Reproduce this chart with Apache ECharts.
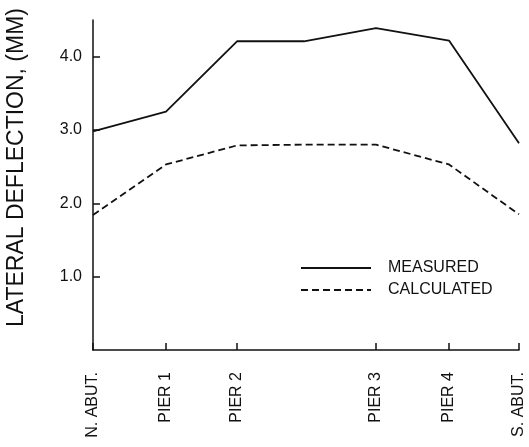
<!DOCTYPE html>
<html><head><meta charset="utf-8">
<script src="https://cdn.jsdelivr.net/npm/echarts@6/dist/echarts.min.js"></script>
<style>html,body{margin:0;padding:0;background:#fff}#c{width:529px;height:447px}</style>
</head><body><div id="c"></div>
<script>
// positions along bridge (arbitrary distance units)
const stationPos = [0, 73, 144, 283, 356, 426];
const stationLabels = ['N. ABUT.', 'PIER 1', 'PIER 2', 'PIER 3', 'PIER 4', 'S. ABUT.'];
const measuredX = [0, 73, 144, 211, 283, 356, 426];
const measuredY = [2.98, 3.25, 4.21, 4.21, 4.39, 4.22, 2.82];
const calculatedX = [0, 73, 144, 211, 283, 356, 426];
const calculatedY = [1.84, 2.53, 2.79, 2.80, 2.80, 2.53, 1.85];
const yTicks = [1, 2, 3, 4];

const font = '"Liberation Sans",Arial,sans-serif';
const chart = echarts.init(document.getElementById('c'), null, {renderer: 'canvas'});
chart.setOption({
  animation: false,
  backgroundColor: '#fff',
  grid: {left: 93, right: 10, top: 20, bottom: 97},
  legend: {
    orient: 'vertical', left: 295, top: 255, itemWidth: 70, itemHeight: 14, itemGap: 6,
    itemStyle: {opacity: 0},
    textStyle: {fontFamily: font, fontSize: 16, color: '#111', padding: [0, 0, 0, 12]},
    data: ['MEASURED', 'CALCULATED']
  },
  xAxis: {
    type: 'value', min: 0, max: 426,
    splitLine: {show: false},
    axisLine: {lineStyle: {color: '#111', width: 1.5}},
    axisTick: {inside: true, length: 7, customValues: stationPos, lineStyle: {color: '#111', width: 1.5}},
    axisLabel: {
      customValues: stationPos, rotate: 90, margin: 22,
      fontFamily: font, fontSize: 16, color: '#111',
      formatter: v => stationLabels[stationPos.indexOf(v)] || ''
    }
  },
  yAxis: {
    type: 'value', min: 0, max: 4.5, interval: 1,
    splitLine: {show: false},
    axisLine: {show: true, lineStyle: {color: '#111', width: 1.5}},
    axisTick: {inside: true, length: 7, customValues: yTicks, lineStyle: {color: '#111', width: 1.5}},
    axisLabel: {
      customValues: yTicks, margin: 11,
      fontFamily: font, fontSize: 16, color: '#111',
      formatter: v => v.toFixed(1)
    }
  },
  graphic: [{
    type: 'text', left: 5, top: 8, rotation: Math.PI / 2,
    style: {text: 'LATERAL DEFLECTION, (MM)', font: '23px ' + font, fill: '#111'}
  }],
  series: [
    {name: 'MEASURED', type: 'line', symbol: 'none', data: measuredX.map((x, i) => [x, measuredY[i]]),
     lineStyle: {color: '#111', width: 1.8}, itemStyle: {color: '#111'}},
    {name: 'CALCULATED', type: 'line', symbol: 'none', data: calculatedX.map((x, i) => [x, calculatedY[i]]),
     lineStyle: {color: '#111', width: 1.8, type: [7, 4]}, itemStyle: {color: '#111'}}
  ]
});
</script></body></html>
